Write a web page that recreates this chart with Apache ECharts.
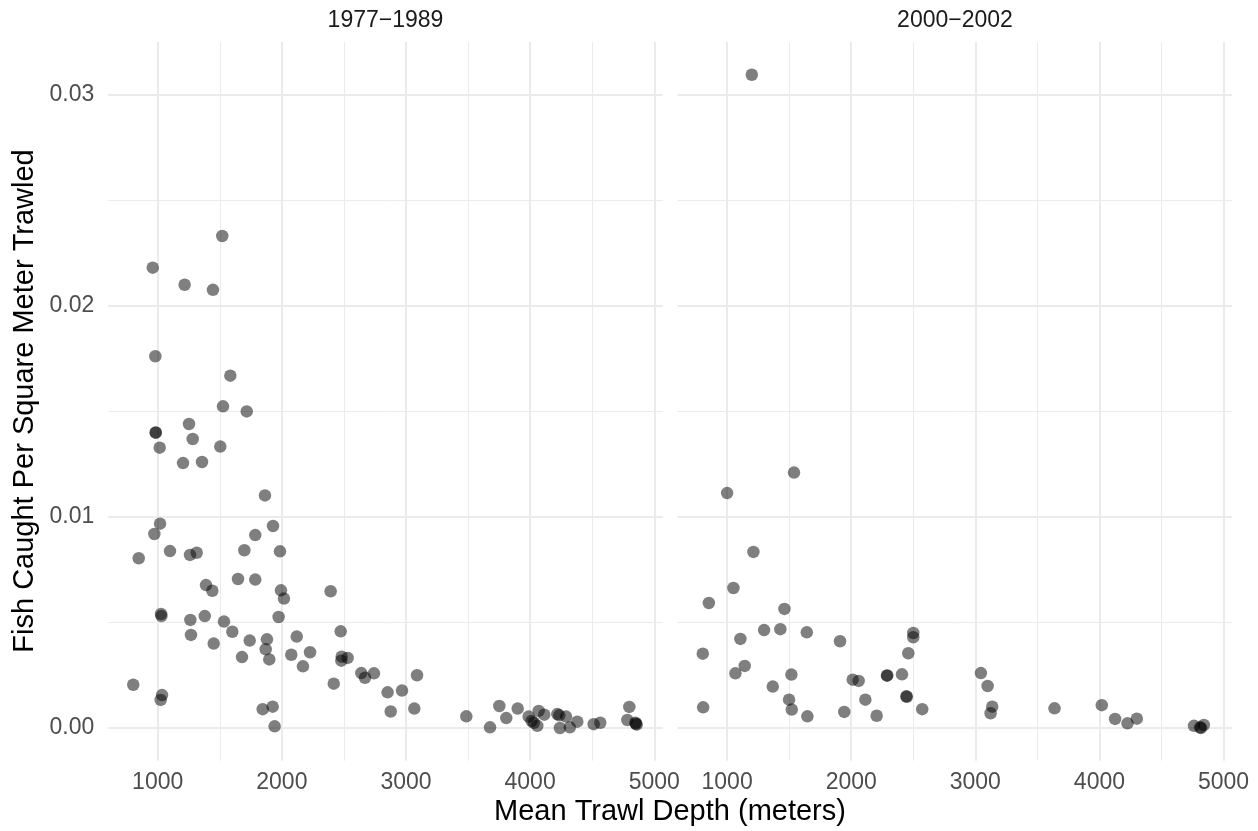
<!DOCTYPE html>
<html>
<head>
<meta charset="utf-8">
<script src="https://cdn.jsdelivr.net/npm/echarts@6/dist/echarts.min.js"></script>
<style>
  html, body { margin: 0; padding: 0; background: #fff; }
  #main { width: 1258px; height: 831px; }
</style>
</head>
<body>
<div id="main"></div>
<script>
// 1977-1989
var earlyDepth = [1520, 960, 1217, 1445, 981, 1585, 1526, 1717, 1252, 984, 984, 1282, 1016, 1504, 1204, 1357,
  1864, 1019, 1929, 973, 1786, 847, 1099, 1260, 1314, 1698, 1985, 1647, 1786, 1389, 1440, 1993, 2017, 2393,
  1027, 1030, 1263, 1379, 1534, 1974, 1601, 1268, 1451, 1741, 1880, 1870, 1899, 1679, 2076, 2120, 2227, 2170,
  2474, 2482, 2530, 2479, 2418, 2640, 2670, 2742, 2852, 2968, 3089, 2877, 3067, 803, 1035, 1024, 1846, 1926,
  1942, 3486, 3677, 3752, 3808, 3900, 3988, 4012, 4030, 4069, 4114, 4058, 4219, 4235, 4289, 4240, 4320, 4380,
  4512, 4565, 4799, 4783, 4848, 4852, 4859];
var earlyCatch = [0.02331, 0.02181, 0.0210, 0.02076, 0.01761, 0.01669, 0.01524, 0.0150, 0.0144, 0.0140, 0.01399,
  0.01369, 0.01328, 0.01333, 0.01255, 0.0126, 0.01102, 0.00968, 0.00957, 0.00919, 0.00914, 0.00804, 0.00838,
  0.0082, 0.0083, 0.00842, 0.00837, 0.00706, 0.00703, 0.00677, 0.0065, 0.00652, 0.00613, 0.00648, 0.0054,
  0.0053, 0.00512, 0.0053, 0.00504, 0.00526, 0.00456, 0.00441, 0.0040, 0.00414, 0.0042, 0.00373, 0.00325,
  0.00336, 0.00347, 0.00433, 0.00359, 0.00292, 0.00458, 0.00338, 0.00332, 0.00319, 0.0021, 0.0026, 0.00238,
  0.00259, 0.00169, 0.00177, 0.0025, 0.00078, 0.00092, 0.00205, 0.00156, 0.00133, 0.00089, 0.00101, 0.00008,
  0.00055, 0.00003, 0.00104, 0.00047, 0.00092, 0.00054, 0.00033, 0.00025, 0.00081, 0.00063, 0.0001, 0.00066,
  0.0006, 0.00054, 0.0, 0.00003, 0.0003, 0.00018, 0.00025, 0.0010, 0.00038, 0.00025, 0.0002, 0.00016];

// 2000-2002
var lateDepth = [1199, 1539, 1000, 1212, 1051, 853, 1462, 1298, 1429, 1642, 1107, 1910, 2500, 2500, 2460, 804,
  1142, 1067, 1518, 1368, 2012, 2060, 2288, 2290, 2409, 2444, 2448, 2114, 1499, 1521, 1647, 1944, 2205, 2572,
  807, 3045, 3099, 3136, 3123, 3638, 4019, 4126, 4226, 4301, 4762, 4841, 4811, 4818];
var lateCatch = [0.03095, 0.0121, 0.01113, 0.00834, 0.00663, 0.00592, 0.00564, 0.00464, 0.00468, 0.00453,
  0.00422, 0.00411, 0.0045, 0.0043, 0.00354, 0.00352, 0.00294, 0.00259, 0.00253, 0.00196, 0.00229, 0.00223,
  0.00248, 0.00249, 0.00254, 0.0015, 0.00148, 0.00134, 0.00134, 0.00087, 0.00055, 0.00076, 0.00058, 0.00089,
  0.00098, 0.0026, 0.00199, 0.00101, 0.0007, 0.00093, 0.00108, 0.00043, 0.00022, 0.00044, 0.0001, 0.00014,
  0.00003, 0.0];

var panelNames = ['1977\u22121989', '2000\u22122002'];
var xMajor = [1000, 2000, 3000, 4000, 5000];
var xMinor = [1500, 2500, 3500, 4500];
var yMajor = [0, 0.01, 0.02, 0.03];
var yMinor = [0.005, 0.015, 0.025];

var FONT = 'Liberation Sans';
var xMin = 602, xMax = 5068;
var yMin = -0.00155, yMax = 0.0325;

function pairs(xs, ys) {
  var out = [];
  for (var i = 0; i < xs.length; i++) out.push([xs[i], ys[i]]);
  return out;
}

function xAxisFor(grid, ticks, major) {
  return {
    type: 'value', gridIndex: grid, min: xMin, max: xMax,
    axisLine: { show: false },
    axisTick: { show: false, customValues: ticks },
    axisLabel: {
      show: major, customValues: ticks, color: '#4d4d4d', fontSize: 23, fontFamily: FONT, margin: 10,
      formatter: function (v) { return String(v); }
    },
    splitLine: { show: true, lineStyle: { color: '#ebebeb', width: major ? 2 : 1 } }
  };
}
function yAxisFor(grid, ticks, major, labels) {
  return {
    type: 'value', gridIndex: grid, min: yMin, max: yMax,
    axisLine: { show: false },
    axisTick: { show: false, customValues: ticks },
    axisLabel: {
      show: labels, customValues: ticks, color: '#4d4d4d', fontSize: 23, fontFamily: FONT, margin: 14,
      formatter: function (v) { return v.toFixed(2); }
    },
    splitLine: { show: true, lineStyle: { color: '#ebebeb', width: major ? 2 : 1 } }
  };
}

var chart = echarts.init(document.getElementById('main'));
chart.setOption({
  backgroundColor: '#fff',
  animation: false,
  grid: [
    { left: 108.3, top: 42, width: 554.4, height: 718.7 },
    { left: 677.7, top: 42, width: 554.3, height: 718.7 }
  ],
  xAxis: [
    xAxisFor(0, xMajor, true), xAxisFor(0, xMinor, false),
    xAxisFor(1, xMajor, true), xAxisFor(1, xMinor, false)
  ],
  yAxis: [
    yAxisFor(0, yMajor, true, true), yAxisFor(0, yMinor, false, false),
    yAxisFor(1, yMajor, true, false), yAxisFor(1, yMinor, false, false)
  ],
  graphic: [
    { type: 'text', x: 385.5, y: 21, style: { text: panelNames[0], fill: '#1a1a1a', font: '23px "Liberation Sans"', align: 'center', verticalAlign: 'middle' } },
    { type: 'text', x: 955, y: 21, style: { text: panelNames[1], fill: '#1a1a1a', font: '23px "Liberation Sans"', align: 'center', verticalAlign: 'middle' } },
    { type: 'text', x: 670, y: 812, style: { text: 'Mean Trawl Depth (meters)', fill: '#000', font: '29px "Liberation Sans"', align: 'center', verticalAlign: 'middle' } },
    { type: 'text', x: 25, y: 401, rotation: Math.PI / 2, style: { text: 'Fish Caught Per Square Meter Trawled', fill: '#000', font: '29px "Liberation Sans"', align: 'center', verticalAlign: 'middle' } }
  ],
  series: [
    {
      name: panelNames[0], type: 'scatter', xAxisIndex: 0, yAxisIndex: 0,
      symbolSize: 12.5, itemStyle: { color: '#000', opacity: 0.5 },
      data: pairs(earlyDepth, earlyCatch)
    },
    {
      name: panelNames[1], type: 'scatter', xAxisIndex: 2, yAxisIndex: 2,
      symbolSize: 12.5, itemStyle: { color: '#000', opacity: 0.5 },
      data: pairs(lateDepth, lateCatch)
    }
  ]
});
</script>
</body>
</html>
